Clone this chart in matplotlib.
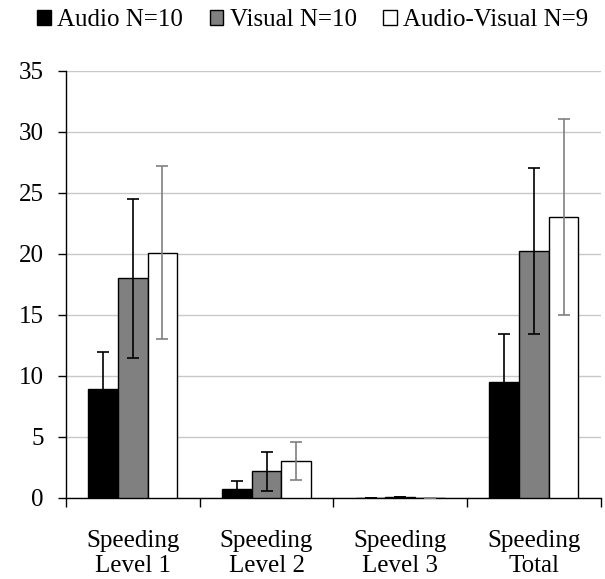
import matplotlib.pyplot as plt
import numpy as np

plt.rcParams['font.family'] = ['Liberation Serif', 'DejaVu Serif']

categories = ['Speeding\nLevel 1', 'Speeding\nLevel 2', 'Speeding\nLevel 3', 'Speeding\nTotal']
series = ['Audio N=10', 'Visual N=10', 'Audio-Visual N=9']

audio = [8.9, 0.7, 0.0, 9.5]
audio_err = [3.05, 0.7, 0.0, 3.9]
visual = [18.0, 2.2, 0.1, 20.2]
visual_err = [6.5, 1.6, 0.0, 6.8]
av = [20.1, 3.0, 0.0, 23.0]
av_err = [7.1, 1.55, 0.0, 8.0]

fills = ['black', '#808080', 'white']
err_colors = ['black', 'black', '#808080']

fig = plt.figure(figsize=(6.05, 5.79), dpi=100)
ax = fig.add_axes([0.109, 0.140, 0.884, 0.738])

x = np.arange(len(categories))
w = 0.222
for i, (vals, errs) in enumerate([(audio, audio_err), (visual, visual_err), (av, av_err)]):
    pos = x + (i - 1) * w
    ax.bar(pos, vals, w, color=fills[i], edgecolor='black', linewidth=1, label=series[i], zorder=3)
    ax.errorbar(pos, vals, yerr=errs, fmt='none', ecolor=err_colors[i],
                elinewidth=1.2, capsize=4, capthick=1.2, zorder=4)

ax.set_ylim(0, 35)
ax.set_xlim(-0.5, 3.5)
ax.set_yticks(np.arange(0, 36, 5))
ax.yaxis.grid(True, color='#c8c8c8', linewidth=1, zorder=0)
ax.set_axisbelow(True)

ax.set_xticks(np.arange(-0.5, 4, 1))
ax.set_xticklabels([])
ax.set_xticks(x, minor=True)
ax.set_xticklabels(categories, minor=True, fontsize=18, linespacing=1.2)
ax.tick_params(axis='x', which='minor', length=0, pad=23)
ax.tick_params(axis='x', which='major', length=6.5, direction='out', width=1)
ax.tick_params(axis='y', length=6, width=1, labelsize=18, pad=10)

for s in ['top', 'right']:
    ax.spines[s].set_visible(False)
ax.spines['left'].set_linewidth(1)
ax.spines['bottom'].set_linewidth(1)

fig.legend(loc='upper left', bbox_to_anchor=(0.037, 1.01), ncol=3, frameon=False,
           fontsize=18, handlelength=0.55, handleheight=0.55, handletextpad=0.25,
           columnspacing=1.05, borderaxespad=0.2)

fig.savefig('out.png', dpi=100)
